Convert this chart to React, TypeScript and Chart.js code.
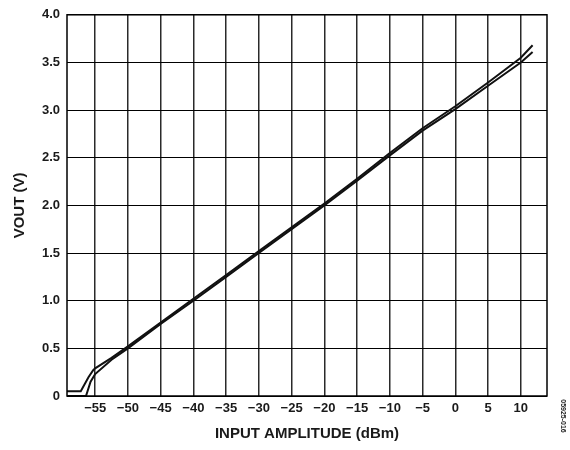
import React, { useEffect, useRef } from "react";
import { Chart, registerables } from "chart.js";

Chart.register(...registerables);

// Input amplitude (dBm) and output voltage (V) for the two traces
const upperX = [-59.3, -57.2, -56.0, -55.3, -55, -52.5, -50, -45, -40, -35, -30, -25, -20, -15, -10, -5, 0, 5, 10, 11.8];
const upperY = [0.05, 0.05, 0.2, 0.27, 0.29, 0.4, 0.52, 0.77, 1.02, 1.27, 1.52, 1.77, 2.02, 2.28, 2.55, 2.81, 3.04, 3.29, 3.55, 3.68];

const lowerX = [-59.3, -56.4, -55.7, -55, -52.5, -50, -45, -40, -35, -30, -25, -20, -15, -10, -5, 0, 5, 10, 11.8];
const lowerY = [0.0, 0.0, 0.15, 0.23, 0.38, 0.5, 0.755, 1.0, 1.25, 1.5, 1.75, 2.0, 2.26, 2.525, 2.785, 3.01, 3.255, 3.5, 3.61];

const xTicks = [-55, -50, -45, -40, -35, -30, -25, -20, -15, -10, -5, 0, 5, 10];
const yTicks = [0, 0.5, 1.0, 1.5, 2.0, 2.5, 3.0, 3.5, 4.0];

const xTitle = "INPUT AMPLITUDE (dBm)";
const yTitle = "VOUT (V)";
const figureCode = "05925-016";

const FONT = "'Liberation Sans', Arial, sans-serif";

const toPoints = (xs: number[], ys: number[]) => xs.map((x, i) => ({ x, y: ys[i] }));

const framePlugin = {
  id: "frameAndTitles",
  afterDraw(chart: any) {
    const { ctx, chartArea } = chart;
    const { left, right, top, bottom } = chartArea;
    ctx.save();
    // plot frame
    ctx.strokeStyle = "#000";
    ctx.lineWidth = 1.5;
    ctx.strokeRect(left, top, right - left, bottom - top);

    ctx.fillStyle = "#1a1a1a";
    ctx.textAlign = "center";
    ctx.textBaseline = "middle";
    ctx.font = `bold 15px ${FONT}`;
    ctx.fillText(xTitle, (left + right) / 2, 434);

    ctx.save();
    ctx.translate(20, (top + bottom) / 2);
    ctx.rotate(-Math.PI / 2);
    ctx.fillText(yTitle, 0, 0);
    ctx.restore();

    ctx.save();
    ctx.font = `bold 7px ${FONT}`;
    ctx.translate(563, 416);
    ctx.rotate(Math.PI / 2);
    ctx.fillText(figureCode, 0, 0);
    ctx.restore();

    ctx.restore();
  },
};

export default function App() {
  const canvasRef = useRef<HTMLCanvasElement | null>(null);

  useEffect(() => {
    if (!canvasRef.current) return;
    const chart = new Chart(canvasRef.current, {
      type: "line",
      data: {
        datasets: [
          {
            data: toPoints(upperX, upperY),
            borderColor: "#111",
            borderWidth: 2,
            pointRadius: 0,
            tension: 0,
          },
          {
            data: toPoints(lowerX, lowerY),
            borderColor: "#111",
            borderWidth: 2,
            pointRadius: 0,
            tension: 0,
          },
        ],
      },
      options: {
        responsive: false,
        animation: false,
        layout: { padding: { top: 13, right: 23, left: 0, bottom: 0 } },
        plugins: {
          legend: { display: false },
          tooltip: { enabled: false },
        },
        scales: {
          x: {
            type: "linear",
            min: -59.3,
            max: 14,
            afterBuildTicks: (scale: any) => {
              scale.ticks = xTicks.map((v) => ({ value: v }));
            },
            afterFit: (scale: any) => {
              scale.height = 54;
            },
            grid: { color: "#2a2a2a", lineWidth: 1.5, drawTicks: false },
            border: { display: false },
            ticks: {
              padding: 5,
              color: "#1a1a1a",
              font: { family: FONT, size: 13, weight: "bold" },
              maxRotation: 0,
              autoSkip: false,
              callback: (v: any) => (v < 0 ? "\u2212" + Math.abs(v) : String(v)),
            },
          },
          y: {
            type: "linear",
            min: 0,
            max: 4,
            afterBuildTicks: (scale: any) => {
              scale.ticks = yTicks.map((v) => ({ value: v }));
            },
            afterFit: (scale: any) => {
              scale.width = 67;
            },
            grid: { color: "#000", lineWidth: 1, drawTicks: false },
            border: { display: false },
            ticks: {
              padding: 7,
              color: "#1a1a1a",
              font: { family: FONT, size: 13, weight: "bold" },
              autoSkip: false,
              callback: (v: any) => (v === 0 ? "0" : Number(v).toFixed(1)),
            },
          },
        },
      },
      plugins: [framePlugin],
    });
    return () => chart.destroy();
  }, []);

  return (
    <div style={{ position: "absolute", left: 0, top: 0, width: 570, height: 450, background: "#fff" }}>
      <canvas ref={canvasRef} width={570} height={450} />
    </div>
  );
}
